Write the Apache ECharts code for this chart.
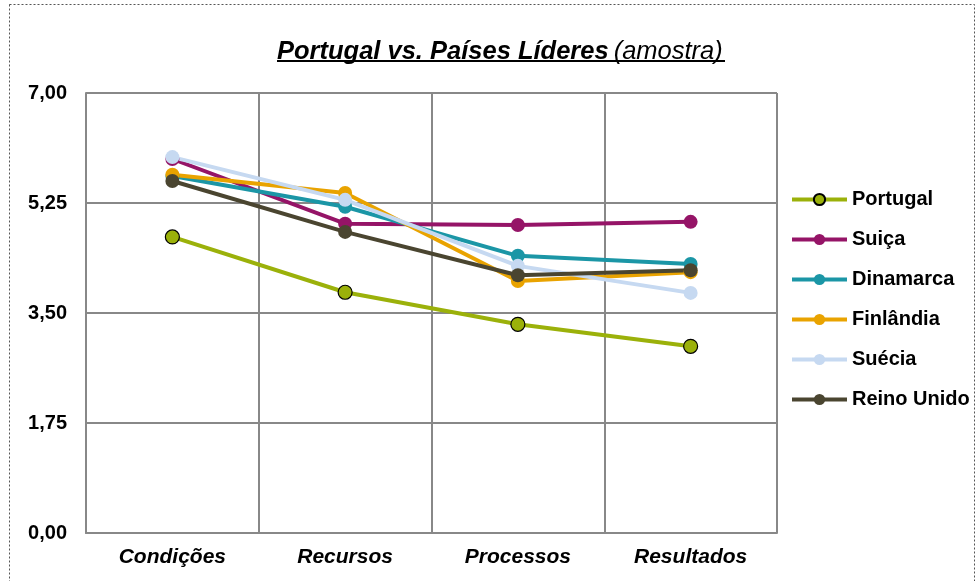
<!DOCTYPE html>
<html>
<head>
    <meta charset="utf-8">
    <title>Portugal vs. Países Líderes</title>
    <script src="https://cdn.jsdelivr.net/npm/echarts@6/dist/echarts.min.js"></script>
    <style>
        body { margin: 0; background: #fff; }
        #chart { width: 978px; height: 581px; }
    </style>
</head>
<body>
<div id="chart"></div>
<script type="text/javascript">
    // categorias e valores
    var categorias = ['Condições', 'Recursos', 'Processos', 'Resultados'];
    var portugal = [4.71, 3.83, 3.32, 2.97];
    var suica = [5.95, 4.92, 4.90, 4.95];
    var dinamarca = [5.68, 5.19, 4.41, 4.28];
    var finlandia = [5.70, 5.41, 4.01, 4.15];
    var suecia = [5.98, 5.30, 4.25, 3.82];
    var reinoUnido = [5.60, 4.79, 4.10, 4.18];
    var yTicks = [0, 1.75, 3.5, 5.25, 7];

    var myChart = echarts.init(document.getElementById('chart'));

    function linha(nome, dados, cor, borda) {
        return {
            name: nome,
            type: 'line',
            data: dados,
            symbol: 'circle',
            symbolSize: 14,
            lineStyle: { color: cor, width: 4 },
            itemStyle: {
                color: cor,
                borderColor: borda || cor,
                borderWidth: borda ? 1.2 : 0
            },
            emphasis: { disabled: true },
            z: 3
        };
    }

    myChart.setOption({
        animation: false,
        textStyle: { fontFamily: '"Liberation Sans", Arial, sans-serif' },
        title: {
            text: '{b|Portugal vs. Países Líderes} {n|(amostra)}',
            left: 272,
            top: 34,
            textStyle: {
                rich: {
                    b: { fontSize: 25.5, fontWeight: 'bold', fontStyle: 'italic', color: '#000' },
                    n: { fontSize: 25.5, fontWeight: 'normal', fontStyle: 'italic', color: '#000' }
                }
            }
        },
        graphic: [
            {
                type: 'rect',
                shape: { x: 9.5, y: 4.5, width: 965, height: 590 },
                style: { fill: 'none', stroke: '#555', lineWidth: 1, lineDash: [2, 2] },
                silent: true
            },
            {
                type: 'line',
                shape: { x1: 277, y1: 61, x2: 725, y2: 61 },
                style: { stroke: '#000', lineWidth: 2 },
                silent: true
            }
        ],
        grid: { left: 86, right: 201, top: 93, bottom: 48 },
        legend: {
            orient: 'vertical',
            left: 785,
            top: 184,
            itemWidth: 55,
            itemHeight: 14,
            itemGap: 19,
            lineStyle: { width: 4 },
            textStyle: { fontSize: 20, lineHeight: 21, fontWeight: 'bold', color: '#000' },
            data: ['Portugal', 'Suiça', 'Dinamarca', 'Finlândia', 'Suécia', 'Reino Unido']
        },
        xAxis: {
            type: 'category',
            data: categorias,
            boundaryGap: true,
            axisLine: { show: true, lineStyle: { color: '#888', width: 2 } },
            axisTick: { show: false },
            splitLine: { show: true, lineStyle: { color: '#888', width: 2 } },
            axisLabel: {
                fontSize: 21,
                fontWeight: 'bold',
                fontStyle: 'italic',
                color: '#000',
                margin: 14
            }
        },
        yAxis: {
            type: 'value',
            min: 0,
            max: 7,
            interval: 1.75,
            axisLine: { show: true, lineStyle: { color: '#888', width: 2 } },
            axisTick: { show: false },
            splitLine: { show: true, lineStyle: { color: '#888', width: 2 } },
            axisLabel: {
                fontSize: 20,
                fontWeight: 'bold',
                color: '#000',
                margin: 19,
                formatter: function (v) {
                    return yTicks.indexOf(v) >= 0 ? v.toFixed(2).replace('.', ',') : '';
                }
            }
        },
        series: [
            linha('Portugal', portugal, '#9BB10A', '#000'),
            linha('Suiça', suica, '#951467'),
            linha('Dinamarca', dinamarca, '#1B96A6'),
            linha('Finlândia', finlandia, '#E9A300'),
            linha('Suécia', suecia, '#C6D9F1'),
            linha('Reino Unido', reinoUnido, '#4A4530')
        ]
    });
</script>
</body>
</html>
